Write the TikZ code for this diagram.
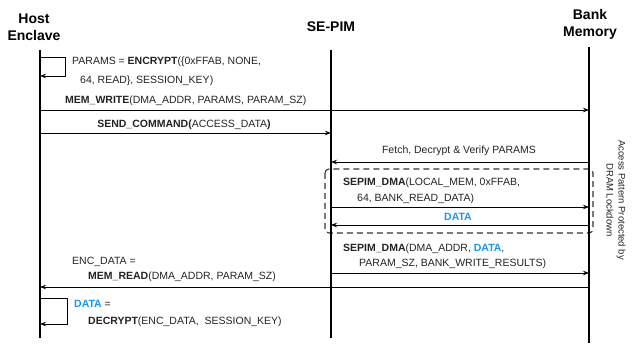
\documentclass[tikz,border=0pt]{standalone}
\usepackage{fontspec}
\setmainfont{Liberation Sans}
\usetikzlibrary{arrows.meta,positioning,calc}
\definecolor{datablue}{RGB}{20,150,255}
\definecolor{txtgray}{RGB}{35,35,35}

\begin{document}
\begin{tikzpicture}[x=1pt, y=-1pt, font=\fontsize{10.5}{12}\selectfont, line join=round, >={Stealth[length=6pt,width=4.5pt]},
	actor/.style={font=\fontsize{14}{17}\selectfont\bfseries, align=center, inner sep=0pt},
	life/.style={line width=2.6pt},
	msg/.style={->, line width=0.8pt},
	lbl/.style={anchor=west, inner sep=0pt, text=txtgray},
	mid/.style={inner sep=0pt, text=txtgray},
	lockbox/.style={line width=1.1pt, dash pattern=on 6pt off 4pt, rounded corners=4pt, draw=black!80}]
	\useasboundingbox (0,0) rectangle (637,344);
	% lifeline heads
	\node[actor] (host) at (34,27.5) {Host\\Enclave};
	\node[actor] (sepim) at (331,27) {SE-PIM};
	\node[actor] (bank) at (590,24.5) {Bank\\Memory};
	\path
	(40,50) coordinate (hostTop)  (40,338) coordinate (hostBot)
	(331,50) coordinate (sepimTop) (331,338) coordinate (sepimBot)
	(589,47) coordinate (bankTop) (589,343) coordinate (bankBot)
	;
	% message rows
	\path
	(0,57) coordinate (l1a) (65,76) coordinate (l1b)
	(0,110) coordinate (r1) (0,133) coordinate (r2) (0,162) coordinate (r3)
	(0,207) coordinate (r4) (0,225) coordinate (r5) (0,273) coordinate (r6)
	(0,287) coordinate (r7)
	(0,298) coordinate (l2a) (67,324) coordinate (l2b)
	;
	% DRAM lockdown region
	\draw[lockbox] (325,169) rectangle (593,233);
	\node[rotate=-90, align=center, inner sep=0pt, font=\fontsize{9.5}{12}\selectfont, text=txtgray] (lock) at (616,200) {Access Pattern Protected by\\DRAM Lockdown};
	% lifelines
	\draw[life] (hostTop) -- (hostBot);
	\draw[life] (sepimTop) -- (sepimBot);
	\draw[life] (bankTop) -- (bankBot);
	% host encrypts
	\draw[msg] (hostTop |- l1a) -| (l1b) -- (hostTop |- l1b);
	\node[lbl] (enc1) at (72,62) {PARAMS = \textbf{ENCRYPT}(\{0xFFAB, NONE,};
	\node[lbl] (enc2) at (80,81) {64, READ\}, SESSION\_KEY)};
	% messages
	\draw[msg] (hostTop |- r1) -- (bankTop |- r1);
	\node[lbl] (mw) at (65,101) {\textbf{MEM\_WRITE}(DMA\_ADDR, PARAMS, PARAM\_SZ)};
	\draw[msg] (hostTop |- r2) -- (sepimTop |- r2);
	\node[mid] (sc) at (184,125) {\textbf{SEND\_COMMAND(}ACCESS\_DATA\textbf{)}};
	\draw[msg] (bankTop |- r3) -- (sepimTop |- r3);
	\node[mid] (fetch) at (459,151) {Fetch, Decrypt \& Verify PARAMS};
	\draw[msg] (sepimTop |- r4) -- (bankTop |- r4);
	\node[lbl] (dma1) at (343,183) {\textbf{SEPIM\_DMA}(LOCAL\_MEM, 0xFFAB,};
	\node[lbl] (dma2) at (357,199) {64, BANK\_READ\_DATA)};
	\draw[msg] (bankTop |- r5) -- (sepimTop |- r5);
	\node[mid, text=datablue, font=\fontsize{10.5}{12}\selectfont\bfseries] (data) at (458,217) {DATA};
	\draw[msg] (sepimTop |- r6) -- (bankTop |- r6);
	\node[lbl] (dma3) at (343,249) {\textbf{SEPIM\_DMA}(DMA\_ADDR, \textcolor{datablue}{\textbf{DATA}},};
	\node[lbl] (dma4) at (359,264) {PARAM\_SZ, BANK\_WRITE\_RESULTS)};
	\draw[msg] (bankTop |- r7) -- (hostTop |- r7);
	\node[lbl] (mr1) at (72,262) {ENC\_DATA =};
	\node[lbl] (mr2) at (88,277) {\textbf{MEM\_READ}(DMA\_ADDR, PARAM\_SZ)};
	% host decrypts
	\draw[msg] (hostTop |- l2a) -| (l2b) -- (hostTop |- l2b);
	\node[lbl] (dec1) at (74,304) {\textcolor{datablue}{\textbf{DATA}} =};
	\node[lbl] (dec2) at (88,322) {\textbf{DECRYPT}(ENC\_DATA,~~SESSION\_KEY)};
\end{tikzpicture}
\end{document}
